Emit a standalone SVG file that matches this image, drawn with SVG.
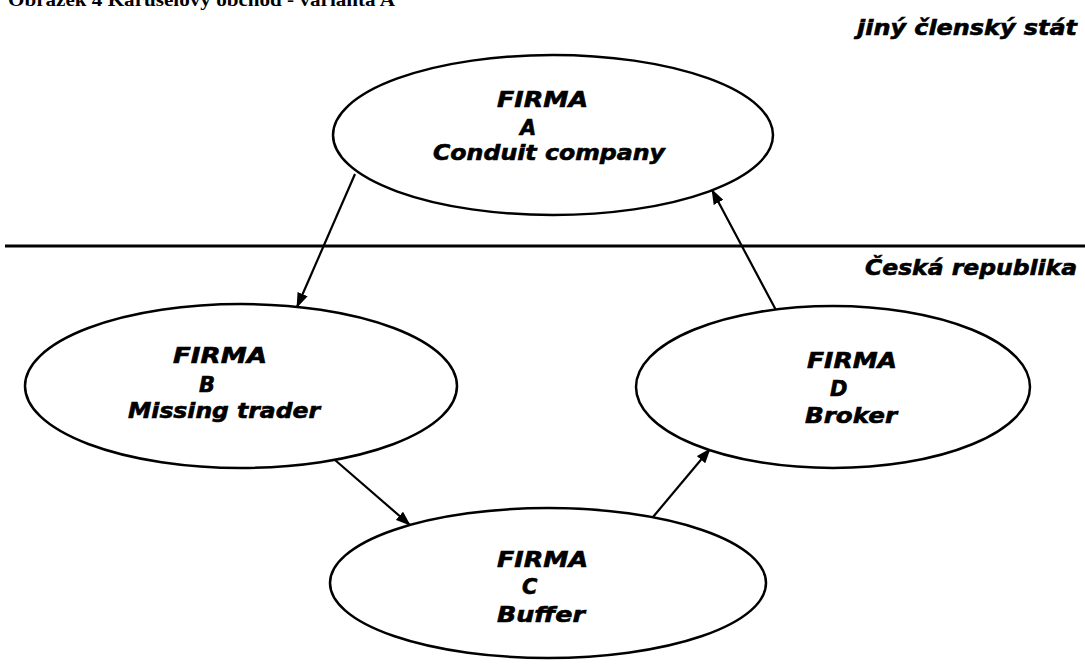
<svg xmlns="http://www.w3.org/2000/svg" width="1085" height="664" viewBox="0 0 1085 664">
<style>
.node{fill:#fff;stroke:#000;stroke-width:2.5}
.t{font-family:"DejaVu Sans",Verdana,sans-serif;font-weight:bold;font-style:italic;font-size:21px;fill:#000;stroke:#000;stroke-width:0.6}
.title{font-family:"Liberation Serif","Times New Roman",serif;font-weight:bold;font-size:19px;fill:#000}
.conn{stroke:#000;stroke-width:2.2;fill:none;marker-end:url(#ah)}
</style>
<defs>
<marker id="ah" viewBox="0 0 15 11" refX="14" refY="5.5" markerWidth="15" markerHeight="11" markerUnits="userSpaceOnUse" orient="auto">
<path d="M0,0 L15,5.5 L0,11 z" fill="#000"/>
</marker>
</defs>
<rect width="1085" height="664" fill="#fff"/>
<text class="title" x="8" y="6" textLength="387" lengthAdjust="spacingAndGlyphs">Obrázek 4 Karuselový obchod - varianta A</text>
<line x1="5" y1="246" x2="1085" y2="246" stroke="#000" stroke-width="3"/>
<text class="t" x="857" y="35" textLength="220" lengthAdjust="spacingAndGlyphs">jiný členský stát</text>
<text class="t" x="865" y="275" textLength="212" lengthAdjust="spacingAndGlyphs">Česká republika</text>
<g id="connectors">
<line class="conn" x1="355" y1="174" x2="297" y2="307"/>
<line class="conn" x1="335" y1="460" x2="410" y2="525"/>
<line class="conn" x1="653" y1="517" x2="710" y2="449"/>
<line class="conn" x1="777" y1="312" x2="712" y2="190"/>
</g>
<g id="firmaA">
<ellipse class="node" cx="553" cy="135" rx="220" ry="80"/>
<text class="t" x="497" y="107" textLength="91" lengthAdjust="spacingAndGlyphs">FIRMA</text>
<text class="t" x="520" y="135">A</text>
<text class="t" x="433" y="160" textLength="232" lengthAdjust="spacingAndGlyphs">Conduit company</text>
</g>
<g id="firmaB">
<ellipse class="node" cx="241" cy="386" rx="216" ry="82"/>
<text class="t" x="173" y="363" textLength="94" lengthAdjust="spacingAndGlyphs">FIRMA</text>
<text class="t" x="199" y="392">B</text>
<text class="t" x="128" y="418" textLength="192" lengthAdjust="spacingAndGlyphs">Missing trader</text>
</g>
<g id="firmaC">
<ellipse class="node" cx="548" cy="583" rx="218" ry="75"/>
<text class="t" x="497" y="567" textLength="91" lengthAdjust="spacingAndGlyphs">FIRMA</text>
<text class="t" x="522" y="594">C</text>
<text class="t" x="497" y="622" textLength="88" lengthAdjust="spacingAndGlyphs">Buffer</text>
</g>
<g id="firmaD">
<ellipse class="node" cx="833" cy="387" rx="197" ry="81"/>
<text class="t" x="807" y="368" textLength="90" lengthAdjust="spacingAndGlyphs">FIRMA</text>
<text class="t" x="830" y="396">D</text>
<text class="t" x="805" y="423" textLength="92" lengthAdjust="spacingAndGlyphs">Broker</text>
</g>
</svg>
